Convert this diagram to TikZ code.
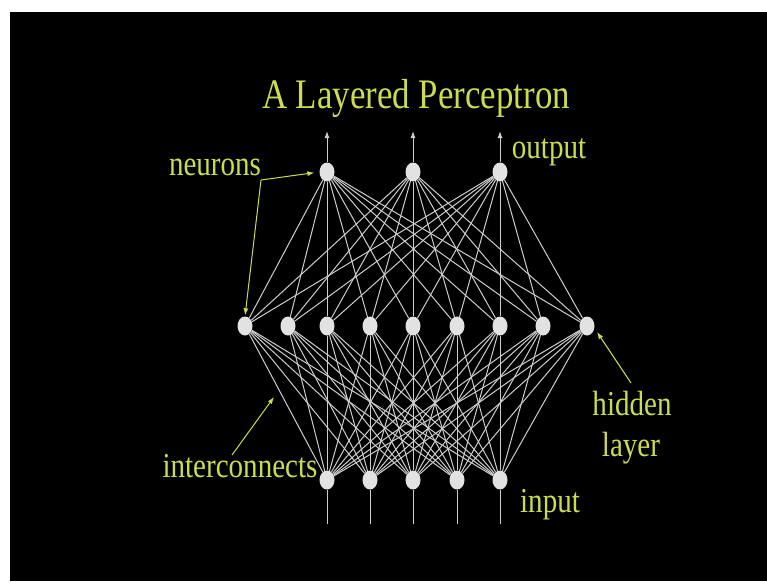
\documentclass[tikz,border=0pt]{standalone}
\usepackage{fontspec}
\setmainfont{Liberation Serif}
\usetikzlibrary{arrows.meta,shapes.geometric}
\definecolor{lbl}{RGB}{204,220,78}
\definecolor{wirecol}{RGB}{205,205,205}
\definecolor{cellcol}{RGB}{226,226,226}
\newcommand{\narrow}[1]{\scalebox{0.83}[1]{#1}}
\begin{document}
\begin{tikzpicture}[x=1pt,y=-1pt,
  neuron/.style={ellipse,fill=cellcol,minimum width=15pt,minimum height=19pt,inner sep=0pt},
  wire/.style={draw=wirecol,line width=1pt},
  lbltext/.style={text=lbl,font=\fontsize{35}{35}\selectfont,anchor=base,inner sep=0pt},
  pointer/.style={draw=lbl,line width=1pt,-{Latex[length=7pt,width=5pt]}},
  outtip/.style={wire,-{Latex[length=7pt,width=5pt]}}]
\useasboundingbox (0,0) rectangle (767,581);
\fill[white] (0,0) rectangle (767,581);
\fill[black] (10,12) rectangle (767,581);

% title
\node[text=lbl,font=\fontsize{42}{42}\selectfont,anchor=base,inner sep=0pt] (title) at (416,108) {\narrow{A Layered Perceptron}};

% the three layers
\foreach \x [count=\k] in {327,413,500}
  \node[neuron] (o\k) at (\x,172) {};
\foreach \x [count=\k] in {245,288,327,370,413,457,500,543,587}
  \node[neuron] (h\k) at (\x,326) {};
\foreach \x [count=\k] in {327,370,413,457,500}
  \node[neuron] (i\k) at (\x,480) {};

% full interconnection between layers
\foreach \a in {1,2,3}
  \foreach \b in {1,...,9}
    \draw[wire] (o\a) -- (h\b);
\foreach \a in {1,...,5}
  \foreach \b in {1,...,9}
    \draw[wire] (i\a) -- (h\b);

% outputs leave upward, inputs arrive from below
\foreach \x [count=\k] in {327,413,500} {
  \coordinate (ot\k) at (\x,131);
  \draw[outtip] (o\k) -- (ot\k);
}
\foreach \x [count=\k] in {327,370,413,457,500} {
  \coordinate (it\k) at (\x,524);
  \draw[wire] (i\k) -- (it\k);
}

% labels
\node[lbltext] (neur) at (215,175) {\narrow{neurons}};
\node[lbltext] (outl) at (549,158) {\narrow{output}};
\node[lbltext] (hid1) at (632,415) {\narrow{hidden}};
\node[lbltext] (hid2) at (631,456) {\narrow{layer}};
\node[lbltext] (inter) at (240,477) {\narrow{interconnects}};
\node[lbltext] (inl) at (550,512) {\narrow{input}};

% pointers
\coordinate (nb) at (261,180);
\draw[pointer,shorten >=5pt] (nb) -- (o1.west);
\draw[pointer,shorten >=1pt] (nb) -- (h1.north);
\coordinate (ic) at (232,455);
\coordinate (ictip) at (274,397);
\draw[pointer] (ic) -- (ictip);
\coordinate (hl) at (631,383);
\coordinate (hltip) at (597,332);
\draw[pointer] (hl) -- (hltip);
\end{tikzpicture}
\end{document}
